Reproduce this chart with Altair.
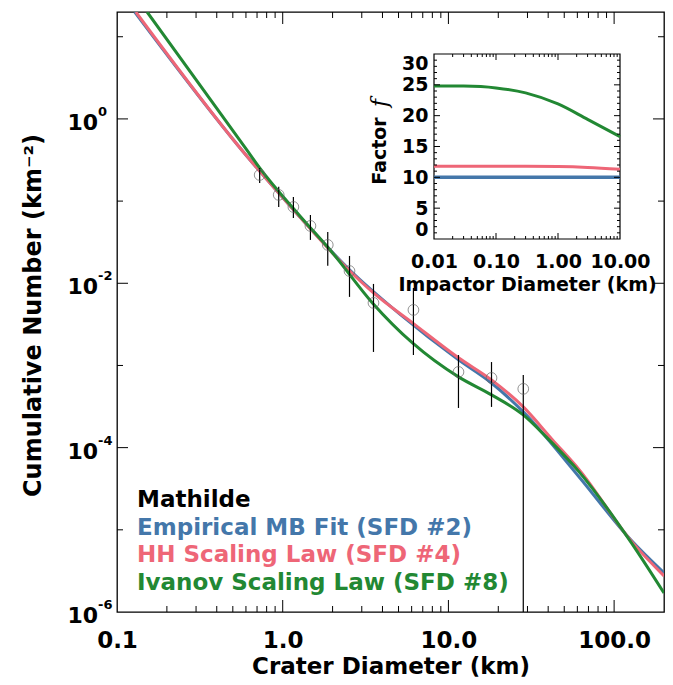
import altair as alt
import pandas as pd

FONT = "DejaVu Sans"
BLUE, PINK, GREEN = "#4477AA", "#EE6677", "#228833"

# ---------------- main panel data ----------------
blue_d = [0.128, 0.566, 1.27, 2.54, 5.07, 11.5, 18.2, 28.3, 61.5, 126, 200]
blue_n = [20, 0.419, 0.0641, 0.0145, 4.24e-3, 1.17e-3, 6.12e-4, 2.72e-4, 4.4e-5, 7.55e-6, 2.99e-6]

pink_d = [0.130, 0.566, 1.27, 2.54, 3.53, 6.07, 11.5, 18.2, 28.3, 42.4, 61.5, 128, 200]
pink_n = [20, 0.419, 0.0641, 0.0141, 7.63e-3, 3.30e-3, 1.24e-3, 6.67e-4, 3.13e-4, 1.25e-4, 5.4e-5, 7.13e-6, 2.75e-6]

green_d = [0.152, 0.607, 0.726, 1.27, 2.0, 3.48, 6.07, 11.5, 18.2, 28.3, 38.9, 61.5, 126, 200]
green_n = [20, 0.419, 0.253, 0.0659, 0.0234, 5.77e-3, 1.88e-3, 7.26e-4, 4.39e-4, 2.50e-4, 1.35e-4, 5.07e-5, 7.13e-6, 1.7e-6]

crater_d = [0.726, 0.946, 1.16, 1.47, 1.87, 2.53, 3.53, 6.15, 11.5, 18.2, 28.3]
crater_n = [0.208, 0.119, 0.0849, 0.0499, 0.0293, 0.0141, 0.00577, 0.00474, 8.34e-4, 7.05e-4, 5.19e-4]
crater_hi = [0.253, 0.149, 0.112, 0.0678, 0.0422, 0.0215, 0.00982, 0.00877, 0.00134, 0.0011, 7.67e-4]
crater_lo = [0.166, 0.0849, 0.0624, 0.0337, 0.0163, 0.00683, 0.00146, 0.00134, 3.04e-4, 3.13e-4, 1e-6]

x_labels = [0.1, 1, 10, 100]
y_labels = [1, 1e-2, 1e-4, 1e-6]
y_exps = ["0", "-2", "-4", "-6"]
x_major = [1, 10, 100]
x_minor = [m * 10.0 ** e for e in (-1, 0, 1) for m in range(2, 10)]
y_major = [1, 1e-2, 1e-4]
y_minor = [10, 1e-1, 1e-3, 1e-5]

legend_labels = ["Mathilde", "Empirical MB Fit (SFD #2)", "HH Scaling Law (SFD #4)", "Ivanov Scaling Law (SFD #8)"]
legend_colors = ["black", BLUE, PINK, GREEN]

# ---------------- inset data ----------------
imp_d = [0.01, 0.03, 0.1, 0.3, 1, 3, 10]
f_blue = [10, 10, 10, 10, 10, 10, 10]
f_pink = [11.8, 11.8, 11.8, 11.8, 11.75, 11.6, 11.3]
f_green = [24.83, 24.8, 24.5, 23.7, 21.9, 19.4, 16.6]
ix_labels = [0.01, 0.1, 1, 10]
iy_labels = [0, 5, 10, 15, 20, 25, 30]
ix_major = [0.1, 1]
ix_minor = [m * 10.0 ** e for e in (-2, -1, 0) for m in range(2, 10)]
iy_major = [5, 10, 15, 20, 25]
iy_minor = [v for v in range(1, 30) if v % 5]

W, H = 547, 600


def XS():
    return alt.Scale(type="log", domain=[0.1, 200])


def YS():
    return alt.Scale(type="log", domain=[1e-6, 20])


def IX():
    return alt.Scale(type="log", domain=[0.01, 10], range=[317, 503])


def IY():
    return alt.Scale(domain=[0, 30], range=[227, 42])


def series(d, n):
    return pd.DataFrame({"D": d, "N": n})


def line(df, color, xs, ys, xf="D", yf="N", sw=3):
    return alt.Chart(df).mark_line(color=color, strokeWidth=sw, clip=True, interpolate="monotone").encode(
        x=alt.X(f"{xf}:Q", scale=xs, axis=None), y=alt.Y(f"{yf}:Q", scale=ys, axis=None))


main_axes = alt.Chart(series(blue_d, blue_n)).mark_line(
    color=BLUE, strokeWidth=3, clip=True, interpolate="monotone").encode(
    x=alt.X("D:Q", scale=XS(), axis=alt.Axis(
        orient="bottom", values=x_labels, labelExpr="format(datum.value, '.1f')", ticks=False,
        domain=False, grid=False, labelFlush=False, labelPadding=17, labelFontSize=23,
        title="Crater Diameter (km)", titleFontSize=23, titleY=61, titleBaseline="alphabetic")),
    y=alt.Y("N:Q", scale=YS(), axis=alt.Axis(
        orient="left", labels=False, ticks=False, domain=False, grid=False,
        title="Cumulative Number (km⁻²)", titleFontSize=24, titleX=-84, titleY=303,
        titleBaseline="middle", titleAngle=270)),
)

pink_line = line(series(pink_d, pink_n), PINK, XS(), YS())
green_line = line(series(green_d, green_n), GREEN, XS(), YS())

craters = pd.DataFrame({"D": crater_d, "N": crater_n, "hi": crater_hi, "lo": crater_lo})
errbars = alt.Chart(craters).mark_rule(color="black", strokeWidth=1.2, clip=True).encode(
    x=alt.X("D:Q", scale=XS(), axis=None), y=alt.Y("lo:Q", scale=YS(), axis=None), y2="hi:Q")
points = alt.Chart(craters).mark_point(shape="circle", filled=False, size=115, color="#666666",
                                       strokeWidth=1).encode(
    x=alt.X("D:Q", scale=XS(), axis=None), y=alt.Y("N:Q", scale=YS(), axis=None))


def xticks(vals, xs, ys, ybot, ytop, length):
    df = pd.DataFrame({"v": vals})
    bot = alt.Chart(df).mark_rule(color="black", strokeWidth=1, y2Offset=-length).encode(
        x=alt.X("v:Q", scale=xs(), axis=None), y=alt.YDatum(ybot, scale=ys(), axis=None),
        y2=alt.Y2Datum(ybot))
    top = alt.Chart(df).mark_rule(color="black", strokeWidth=1, y2Offset=length).encode(
        x=alt.X("v:Q", scale=xs(), axis=None), y=alt.YDatum(ytop, scale=ys(), axis=None),
        y2=alt.Y2Datum(ytop))
    return [bot, top]


def yticks(vals, xs, ys, xl, xr, length):
    df = pd.DataFrame({"v": vals})
    left = alt.Chart(df).mark_rule(color="black", strokeWidth=1, x2Offset=length).encode(
        y=alt.Y("v:Q", scale=ys(), axis=None), x=alt.XDatum(xl, scale=xs(), axis=None),
        x2=alt.X2Datum(xl))
    right = alt.Chart(df).mark_rule(color="black", strokeWidth=1, x2Offset=-length).encode(
        y=alt.Y("v:Q", scale=ys(), axis=None), x=alt.XDatum(xr, scale=xs(), axis=None),
        x2=alt.X2Datum(xr))
    return [left, right]


main_ticks = (xticks(x_major, XS, YS, 1e-6, 20, 12) + xticks(x_minor, XS, YS, 1e-6, 20, 6)
              + yticks(y_major, XS, YS, 0.1, 200, 11) + yticks(y_minor, XS, YS, 0.1, 200, 6))

ylab_df = pd.DataFrame({"v": y_labels, "e": y_exps})
ylab_base = alt.Chart(ylab_df).mark_text(align="right", baseline="middle", dy=4, fontSize=22,
                                         font=FONT, fontWeight="bold", color="black").encode(
    y=alt.Y("v:Q", scale=YS(), axis=None), x=alt.value(-19), text=alt.value("10"))
ylab_exp = alt.Chart(ylab_df).mark_text(align="left", baseline="middle", dy=-7, fontSize=13,
                                        font=FONT, fontWeight="bold", color="black").encode(
    y=alt.Y("v:Q", scale=YS(), axis=None), x=alt.value(-19), text="e:N")

legend_layers = []
for i, (lab, col) in enumerate(zip(legend_labels, legend_colors)):
    legend_layers.append(
        alt.Chart(pd.DataFrame({"t": [lab]})).mark_text(
            align="left", baseline="alphabetic", fontSize=23, font=FONT, fontWeight="bold", color=col
        ).encode(x=alt.value(20), y=alt.value(495 + i * 27.7), text="t:N"))

# ---------------- inset ----------------
inset_df = pd.DataFrame({"d": imp_d, "b": f_blue, "p": f_pink, "g": f_green})
inset_frame = alt.Chart(pd.DataFrame({"a": [0]})).mark_rect(
    fill="white", fillOpacity=0, stroke="black", strokeWidth=1.2).encode(
    x=alt.XDatum(0.01, scale=IX(), axis=alt.Axis(
        orient="bottom", offset=-373, values=ix_labels, labelExpr="format(datum.value, '.2f')",
        ticks=False, domain=False, grid=False, labelFlush=False, labelPadding=13, labelFontSize=19,
        title="Impactor Diameter (km)", titleFontSize=19, titleY=51, titleBaseline="alphabetic")),
    x2=alt.X2Datum(10),
    y=alt.YDatum(0, scale=IY(), axis=alt.Axis(
        orient="left", offset=-317, values=iy_labels, ticks=False, domain=False, grid=False,
        labelFlush=True, labelPadding=6, labelFontSize=19, title=None)),
    y2=alt.Y2Datum(30),
)
inset_blue = line(inset_df, BLUE, IX(), IY(), "d", "b", 3.5)
inset_pink = line(inset_df, PINK, IX(), IY(), "d", "p", 3)
inset_green = line(inset_df, GREEN, IX(), IY(), "d", "g", 3)
inset_ticks = (xticks(ix_major, IX, IY, 0, 30, 6) + xticks(ix_minor, IX, IY, 0, 30, 3)
               + yticks(iy_major, IX, IY, 0.01, 10, 6) + yticks(iy_minor, IX, IY, 0.01, 10, 3))
factor_txt = alt.Chart(pd.DataFrame({"t": ["Factor"]})).mark_text(
    angle=270, align="center", baseline="middle", fontSize=19, font=FONT, fontWeight="bold",
    color="black").encode(x=alt.value(263), y=alt.value(139), text="t:N")
f_txt = alt.Chart(pd.DataFrame({"t": ["f"]})).mark_text(
    angle=270, align="center", baseline="middle", fontSize=22, font="DejaVu Serif", fontStyle="italic",
    color="black").encode(x=alt.value(263), y=alt.value(91), text="t:N")

layers = [main_axes, pink_line, green_line, errbars, points, *main_ticks, ylab_base, ylab_exp,
          *legend_layers, inset_frame, inset_blue, inset_pink, inset_green, *inset_ticks,
          factor_txt, f_txt]

chart = alt.layer(*layers).resolve_scale(x="independent", y="independent").properties(
    width=W, height=H, autosize=alt.AutoSizeParams(type="none"),
    padding={"left": 109, "top": 4, "right": 1, "bottom": 65},
).configure_view(stroke="black", strokeWidth=1.3).configure_axis(
    labelFont=FONT, titleFont=FONT, labelFontWeight="bold", titleFontWeight="bold",
    labelColor="black", titleColor="black")

chart.save("out.html", embed_options={"renderer": "svg", "actions": False})
